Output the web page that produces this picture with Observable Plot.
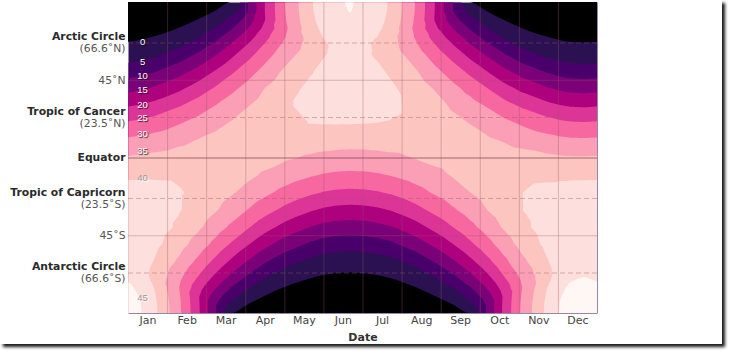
<!DOCTYPE html>
<html><head><meta charset="utf-8">
<script src="https://cdn.jsdelivr.net/npm/d3@7"></script>
<script src="https://cdn.jsdelivr.net/npm/@observablehq/plot@0.6"></script>
<style>
html,body{margin:0;padding:0;background:#fff;}
#box{position:absolute;left:0;top:0;width:722px;height:344px;background:#fff;box-shadow:3px 3px 3px rgba(0,0,0,0.9);}
#box svg{display:block;}
.clab-dark text{text-shadow:1px 1px 1px rgba(0,0,0,0.8);}
.clab-light text{text-shadow:1px 1px 1px rgba(255,255,255,0.95);}
</style></head><body><div id="box"></div>
<script>
// Sample dates, in month units (0 = Jan 1, 12 = Dec 31)
const datePos = [0, 0.29, 0.645, 1.286, 1.786, 2.226, 2.645, 3.067, 3.5, 4.0, 4.645, 5.0, 5.3, 5.667, 6.032, 6.355, 6.742, 7.355, 7.839, 8.3, 8.733, 9.161, 9.581, 10.067, 10.7, 11.032, 11.29, 11.645];
// Latitudes of the sample rows
const lats = [90, 85, 80, 75, 70, 66.56, 60, 50, 40, 30, 20, 10, 0, -10, -20, -30, -40, -50, -60, -66.56, -70, -75, -80, -85, -90];
// Daily insolation (MJ/m²/day), one row per latitude, one column per date
const insolation = [
[0,0,0,0,0,0,0,10.26,20.29,30.00,39.26,42.83,44.56,45.26,44.41,42.59,38.94,29.62,20.00,10.11,0,0,0,0,0,0,0,0],
[0,0,0,0,0,0,3.29,10.22,20.22,29.88,39.11,42.66,44.39,45.09,44.24,42.43,38.79,29.51,19.92,10.07,3.24,0,0,0,0,0,0,0],
[0,0,0,0,0,2.28,6.56,12.35,19.99,29.54,38.67,42.18,43.88,44.58,43.74,41.94,38.35,29.17,19.70,12.17,6.46,2.25,0,0,0,0,0,0],
[0,0,0,0,1.87,5.30,9.77,15.14,21.42,28.97,37.92,41.37,43.04,43.72,42.90,41.14,37.61,28.61,21.11,14.91,9.62,5.22,1.85,0,0,0,0,0],
[0,0,0,1.65,4.62,8.44,12.92,17.96,23.57,29.77,36.89,40.24,41.87,42.53,41.73,40.02,36.59,29.39,23.22,17.69,12.72,8.32,4.56,1.63,0,0,0,0],
[0.04,0.24,0.88,3.36,6.67,10.60,15.02,19.86,25.10,30.74,36.86,39.52,40.92,41.53,40.79,39.30,36.55,30.36,24.74,19.56,14.79,10.44,6.58,3.32,0.88,0.24,0.04,0],
[2.32,2.82,3.92,7.07,10.69,14.64,18.88,23.33,27.97,32.76,37.71,39.75,40.77,41.17,40.63,39.53,37.40,32.35,27.56,22.97,18.59,14.43,10.54,6.99,3.89,2.81,2.31,2.10],
[7.70,8.34,9.67,13.13,16.76,20.49,24.27,28.06,31.84,35.93,39.61,41.07,41.77,42.04,41.63,40.83,39.29,35.48,31.38,27.64,23.90,20.19,16.53,12.98,9.60,8.30,7.68,7.41],
[13.76,14.43,15.78,19.13,22.47,25.74,28.93,31.98,35.24,38.38,40.96,41.93,42.39,42.54,42.25,41.71,40.63,37.90,34.73,31.49,28.48,25.37,22.16,18.92,15.66,14.37,13.73,13.46],
[19.90,20.52,21.76,24.73,27.58,30.23,32.70,34.94,37.34,39.50,41.01,41.54,41.77,41.82,41.64,41.31,40.68,39.02,36.79,34.41,32.20,29.80,27.20,24.46,21.60,20.43,19.84,19.60],
[25.74,26.27,27.31,29.72,31.90,33.82,35.48,36.86,38.35,39.55,40.05,40.16,40.19,40.15,40.05,39.94,39.72,39.06,37.79,36.30,34.94,33.33,31.47,29.40,27.12,26.15,25.67,25.47],
[31.04,31.45,32.22,33.90,35.30,36.39,37.19,37.67,37.86,37.74,37.29,37.03,36.87,36.75,36.75,36.83,36.99,37.27,37.31,37.09,36.62,35.86,34.82,33.53,31.99,31.30,30.95,30.82],
[35.61,35.85,36.30,37.14,37.67,37.87,37.76,37.34,36.64,35.63,34.34,33.74,33.41,33.23,33.30,33.56,34.05,35.19,36.10,36.77,37.18,37.32,37.16,36.73,36.04,35.69,35.50,35.45],
[39.29,39.35,39.43,39.33,38.93,38.20,37.19,35.88,34.33,32.53,30.48,29.59,29.13,28.89,29.03,29.43,30.23,32.12,33.84,35.34,36.62,37.65,38.40,38.90,39.14,39.17,39.17,39.21],
[41.98,41.84,41.51,40.41,39.04,37.38,35.48,33.35,31.03,28.51,25.84,24.73,24.15,23.88,24.08,24.59,25.62,28.16,30.58,32.84,34.94,36.84,38.51,39.97,41.21,41.65,41.86,41.99],
[43.64,43.28,42.51,40.37,38.01,35.44,32.70,29.81,26.82,23.73,20.58,19.31,18.67,18.37,18.61,19.21,20.41,23.44,26.43,29.36,32.20,34.92,37.49,39.93,42.20,43.08,43.51,43.74],
[44.28,43.69,42.46,39.22,35.88,32.43,28.93,25.38,21.85,18.35,14.92,13.58,12.92,12.61,12.88,13.51,14.80,18.12,21.53,24.99,28.48,31.96,35.39,38.79,42.15,43.48,44.16,44.50],
[44.07,43.21,41.46,37.08,32.74,28.46,24.27,20.20,16.30,12.59,9.14,7.85,7.22,6.95,7.20,7.81,9.07,12.44,16.06,19.89,23.90,28.05,32.30,36.67,41.16,43.00,43.94,44.40],
[43.44,42.24,39.87,34.15,28.76,23.66,18.88,14.44,10.39,6.78,3.71,2.66,2.18,1.97,2.17,2.64,3.68,6.70,10.24,14.22,18.59,23.32,28.37,33.77,39.58,42.04,43.32,43.92],
[43.60,41.99,38.97,32.04,25.81,20.14,15.02,10.45,6.49,3.22,0.84,0.23,0.04,0,0.04,0.22,0.83,3.18,6.39,10.29,14.79,19.85,25.46,31.69,38.68,41.80,43.48,44.30],
[44.62,42.77,39.00,31.02,24.23,18.22,12.92,8.32,4.50,1.58,0,0,0,0,0,0,0,1.56,4.43,8.19,12.72,17.95,23.90,30.69,38.72,42.57,44.49,45.38],
[45.86,43.96,40.09,30.20,22.03,15.35,9.77,5.23,1.82,0,0,0,0,0,0,0,0,0,1.79,5.15,9.62,15.13,21.73,29.87,39.80,43.76,45.73,46.64],
[46.76,44.82,40.88,30.79,20.55,12.53,6.56,2.25,0,0,0,0,0,0,0,0,0,0,0,2.21,6.46,12.35,20.27,30.45,40.58,44.61,46.63,47.55],
[47.30,45.34,41.35,31.15,20.79,10.37,3.29,0,0,0,0,0,0,0,0,0,0,0,0,0,3.24,10.22,20.51,30.81,41.05,45.13,47.17,48.10],
[47.48,45.51,41.51,31.26,20.87,10.41,0,0,0,0,0,0,0,0,0,0,0,0,0,0,0,10.26,20.58,30.92,41.21,45.30,47.35,48.29]
];
// Polar night edge (latitude) for each date
const polarNightNorth = [67,68,70,75,80,85,90,90,90,90,90,90,90,90,90,90,90,90,90,90,90,85,80,75,70,68,67,66.56];
const polarNightSouth = [-90,-90,-90,-90,-90,-90,-90,-85,-80,-75,-70,-68,-67,-66.56,-67,-68,-70,-75,-80,-85,-90,-90,-90,-90,-90,-90,-90,-90];

const levels = [5, 10, 15, 20, 25, 30, 35, 40, 45];
const levelColors = ["#49006a","#7a0177","#ae017e","#dd3497","#f768a1","#fa9fb5","#fcc5c0","#fde0dd","#fff7f3"];
const belowFirst = "#2b1152";

const contourLabelValues = ["0","5","10","15","20","25","30","35","40","45"];
const contourLabelLats = [67.4, 55.8, 47.7, 39.6, 30.9, 23.4, 14.2, 3.8, -11.3, -80.8];

const months = ["Jan","Feb","Mar","Apr","May","Jun","Jul","Aug","Sep","Oct","Nov","Dec"];
const monthStarts = [1,2,3,4,5,6,7,8,9,10,11];

const tickLats = [66.56, 45, 23.44, 0, -23.44, -45, -66.56];
const tickNames = ["Arctic Circle", null, "Tropic of Cancer", "Equator", "Tropic of Capricorn", null, "Antarctic Circle"];
const tickSubs = ["(66.6˚N)", "45˚N", "(23.5˚N)", null, "(23.5˚S)", "45˚S", "(66.6˚S)"];

// Build the sample table (with the year wrapped at both ends)
const grid = [];
const night = [];
datePos.forEach((x, j) => {
  const xs = [x];
  if (x > 11.2) xs.push(x - 12);
  if (x < 0.3) xs.push(x + 12);
  for (const xx of xs) {
    lats.forEach((lat, i) => grid.push({x: xx, lat, q: insolation[i][j]}));
    night.push({x: xx, n: polarNightNorth[j], s: polarNightSouth[j]});
  }
});
night.sort((a, b) => a.x - b.x);

const labels = contourLabelValues.map((t, i) => ({t, lat: contourLabelLats[i]}));
const ticks = tickLats.map((lat, i) => ({lat, name: tickNames[i], sub: tickSubs[i]}));

const gridStroke = "rgb(150,90,100)";

const chart = Plot.plot({
  width: 722, height: 344,
  marginLeft: 128, marginRight: 125, marginTop: 2, marginBottom: 31,
  x: {domain: [0, 12], axis: null},
  y: {domain: [-90, 90], axis: null},
  color: {type: "threshold", domain: [7.5, 12.5, 17.5, 22.5, 27.5, 32.5, 37.5, 42.5], range: levelColors},
  style: {fontFamily: "DejaVu Sans", background: "transparent", overflow: "visible"},
  marks: [
    Plot.frame({fill: belowFirst}),
    Plot.contour(grid, {x: "x", y: "lat", fill: "q", thresholds: levels, interpolate: "barycentric", pixelSize: 1, clip: true}),
    Plot.areaY(night, {x: "x", y1: "n", y2: 90, fill: "black", curve: "monotone-x", clip: true}),
    Plot.areaY(night, {x: "x", y1: "s", y2: -90, fill: "black", curve: "monotone-x", clip: true}),
    Plot.ruleX(monthStarts, {stroke: gridStroke, strokeOpacity: 0.35}),
    Plot.ruleY([45, -45], {stroke: gridStroke, strokeOpacity: 0.35}),
    Plot.ruleY([66.56, 23.44, -23.44, -66.56], {stroke: gridStroke, strokeOpacity: 0.4, strokeDasharray: "5,3"}),
    Plot.ruleY([0], {stroke: "rgb(110,55,65)", strokeOpacity: 0.65}),
    Plot.text(labels.filter(d => +d.t <= 35), {x: 0.36, y: "lat", text: "t", fill: "white", fontSize: 9.5, fontFamily: "Liberation Sans", className: "clab-dark"}),
    Plot.text(labels.filter(d => +d.t > 35), {x: 0.36, y: "lat", text: "t", fill: "#999", fontSize: 9.5, fontFamily: "Liberation Sans", className: "clab-light"}),
    Plot.text(ticks.filter(d => d.name && d.sub), {y: "lat", text: "name", frameAnchor: "left", textAnchor: "end", dx: -3, dy: -6, fontWeight: "bold", fontSize: 10.8, fill: "#2a2a2a"}),
    Plot.text(ticks.filter(d => d.name && d.sub), {y: "lat", text: "sub", frameAnchor: "left", textAnchor: "end", dx: -3, dy: 6, fontSize: 10.8, fill: "#555"}),
    Plot.text(ticks.filter(d => d.name && !d.sub), {y: "lat", text: "name", frameAnchor: "left", textAnchor: "end", dx: -3, fontWeight: "bold", fontSize: 10.8, fill: "#2a2a2a"}),
    Plot.text(ticks.filter(d => !d.name && d.sub), {y: "lat", text: "sub", frameAnchor: "left", textAnchor: "end", dx: -3, fontSize: 10.8, fill: "#555"}),
    Plot.text(months, {x: (d, i) => i + 0.5, frameAnchor: "bottom", dy: 10, fontSize: 11, fill: "#444"}),
    Plot.text(["Date"], {x: 6, frameAnchor: "bottom", dy: 27, fontSize: 11, fontWeight: "bold", fill: "#333"})
  ]
});
document.getElementById("box").appendChild(chart);
</script></body></html>
